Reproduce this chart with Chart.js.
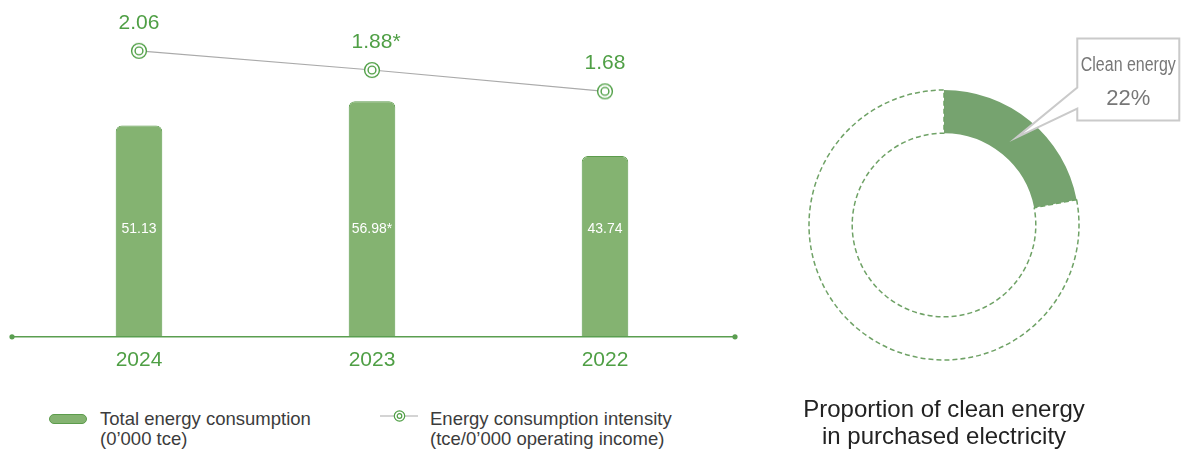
<!DOCTYPE html>
<html lang="en">
<head>
<meta charset="UTF-8">
<title>Energy consumption</title>
<script src="https://cdn.jsdelivr.net/npm/chart.js@4.4.1/dist/chart.umd.min.js"></script>
<style>
    body { margin: 0; background: #fff; width: 1183px; height: 451px; position: relative; overflow: hidden; font-family: "Liberation Sans", Arial, sans-serif; }
    #energy { position: absolute; left: 0; top: 0; }
    #clean { position: absolute; left: 770px; top: 0; }
    .lg-text { position: absolute; top: 409px; font-size: 18.5px; line-height: 20px; color: #3c3c3c; white-space: nowrap; }
    .lg-bar { position: absolute; left: 49px; top: 414px; width: 38px; height: 10px; border-radius: 5px; background: #84b371; border: 1px solid #5c9c4c; box-sizing: border-box; }
    .lg-line { position: absolute; left: 380px; top: 409px; }
</style>
</head>
<body>
<canvas id="energy" width="750" height="392"></canvas>
<canvas id="clean" width="413" height="451"></canvas>

<div class="lg-bar"></div>
<div class="lg-text" style="left:100px">Total energy consumption<br>(0’000 tce)</div>
<svg class="lg-line" width="40" height="14">
    <line x1="0" y1="7" x2="38" y2="7" stroke="#aaa" stroke-width="1.2"/>
    <circle cx="19.5" cy="7" r="5.2" fill="#fff" stroke="#4f9f45" stroke-width="1.2"/>
    <circle cx="19.5" cy="7" r="2.3" fill="#fff" stroke="#4f9f45" stroke-width="1.2"/>
</svg>
<div class="lg-text" style="left:430px">Energy consumption intensity<br>(tce/0’000 operating income)</div>

<script>
    // data
    var years = ["2024", "2023", "2022"];
    var totalEnergy = [51.13, 56.98, 43.74];
    var totalEnergyLabels = ["51.13", "56.98*", "43.74"];
    var intensity = [2.06, 1.88, 1.68];
    var intensityLabels = ["2.06", "1.88*", "1.68"];
    var cleanLabels = ["Clean energy", "Other"];
    var cleanShare = [22, 78];

    var green = "#4f9f45";
    var axisGreen = "#5a9e50";

    Chart.defaults.font.family = '"Liberation Sans", Arial, sans-serif';

    // double circle marker for the intensity line
    var marker = document.createElement("canvas");
    marker.width = 20;
    marker.height = 20;
    var mctx = marker.getContext("2d");
    mctx.strokeStyle = green;
    mctx.lineWidth = 1.4;
    mctx.fillStyle = "#fff";
    mctx.beginPath();
    mctx.arc(10, 10, 7.4, 0, Math.PI * 2);
    mctx.fill();
    mctx.stroke();
    mctx.beginPath();
    mctx.arc(10, 10, 3.9, 0, Math.PI * 2);
    mctx.stroke();

    // axis line with end dots, value labels
    var energyDecor = {
        id: "energyDecor",
        afterDatasetsDraw: function (chart) {
            var ctx = chart.ctx;
            var area = chart.chartArea;
            var yScale = chart.scales.y;
            var base = yScale.getPixelForValue(0);
            ctx.save();
            ctx.strokeStyle = axisGreen;
            ctx.fillStyle = axisGreen;
            ctx.lineWidth = 1.5;
            ctx.beginPath();
            ctx.moveTo(area.left - 10.5, base);
            ctx.lineTo(area.right + 13.5, base);
            ctx.stroke();
            [area.left - 10.5, area.right + 13.5].forEach(function (x) {
                ctx.beginPath();
                ctx.arc(x, base, 2.6, 0, Math.PI * 2);
                ctx.fill();
            });

            ctx.fillStyle = "#fff";
            ctx.font = '14px "Liberation Sans", Arial, sans-serif';
            ctx.textAlign = "center";
            ctx.textBaseline = "middle";
            chart.getDatasetMeta(1).data.forEach(function (bar, i) {
                ctx.fillText(totalEnergyLabels[i], bar.x, yScale.getPixelForValue(26));
            });

            ctx.fillStyle = green;
            ctx.font = '21px "Liberation Sans", Arial, sans-serif';
            ctx.textAlign = "left";
            chart.getDatasetMeta(0).data.forEach(function (pt, i) {
                var t = intensityLabels[i];
                var w = ctx.measureText(t.replace("*", "")).width;
                ctx.fillText(t, pt.x - w / 2, pt.y - 28);
            });
            ctx.restore();
        }
    };

    new Chart(document.getElementById("energy"), {
        data: {
            labels: years,
            datasets: [{
                type: "line",
                label: "Energy consumption intensity",
                data: intensity,
                yAxisID: "y1",
                borderColor: "#aaa",
                borderWidth: 1.2,
                pointStyle: marker,
                tension: 0,
                fill: false,
                order: 0
            }, {
                type: "bar",
                label: "Total energy consumption",
                data: totalEnergy,
                yAxisID: "y",
                backgroundColor: "#84b371",
                borderColor: "#5c9c4c",
                borderWidth: 1,
                borderSkipped: "bottom",
                borderRadius: { topLeft: 6, topRight: 6 },
                barPercentage: 0.2,
                categoryPercentage: 1,
                order: 1
            }]
        },
        options: {
            responsive: false,
            animation: false,
            events: [],
            layout: { padding: { left: 22.5, right: 28.5, top: 6, bottom: 8 } },
            plugins: { legend: { display: false }, tooltip: { enabled: false } },
            scales: {
                x: {
                    grid: { display: false, drawTicks: false },
                    border: { display: false },
                    ticks: { color: green, font: { size: 21 }, padding: 11 }
                },
                y: { display: false, min: 0, max: 80 },
                y1: { display: false, min: -0.62, max: 2.48 }
            }
        },
        plugins: [energyDecor]
    });

    // callout box pointing at the clean energy slice
    var callout = {
        id: "callout",
        afterDraw: function (chart) {
            var ctx = chart.ctx;
            var tip = chart.getDatasetMeta(0).data[0].tooltipPosition();
            var bx = tip.x + 61, by = tip.y - 99, bw = 102, bh = 82;
            ctx.save();
            ctx.beginPath();
            ctx.moveTo(bx, by);
            ctx.lineTo(bx + bw, by);
            ctx.lineTo(bx + bw, by + bh);
            ctx.lineTo(bx, by + bh);
            ctx.lineTo(bx, tip.y - 29);
            ctx.lineTo(tip.x, tip.y);
            ctx.lineTo(bx, tip.y - 50);
            ctx.closePath();
            ctx.fillStyle = "#fff";
            ctx.fill();
            ctx.strokeStyle = "#cacaca";
            ctx.lineWidth = 2;
            ctx.stroke();

            ctx.fillStyle = "#777";
            ctx.textAlign = "center";
            ctx.textBaseline = "alphabetic";
            // condensed look: squeeze the label to the box width
            ctx.font = '20px "Liberation Sans", Arial, sans-serif';
            var sx = Math.min(1, 95 / ctx.measureText(cleanLabels[0]).width);
            ctx.save();
            ctx.translate(bx + bw / 2, by + 32);
            ctx.scale(sx, 1);
            ctx.fillText(cleanLabels[0], 0, 0);
            ctx.restore();
            ctx.textBaseline = "middle";
            ctx.font = '22px "Liberation Sans", Arial, sans-serif';
            ctx.fillText(cleanShare[0] + "%", bx + bw / 2, by + 60);
            ctx.restore();
        }
    };

    new Chart(document.getElementById("clean"), {
        type: "doughnut",
        data: {
            labels: cleanLabels,
            datasets: [{
                data: cleanShare,
                backgroundColor: ["#76a36f", "rgba(0,0,0,0)"],
                borderColor: ["#76a36f", "#6fa266"],
                borderWidth: [0, 1.5],
                borderDash: [5, 3]
            }]
        },
        options: {
            responsive: false,
            animation: false,
            events: [],
            radius: 135,
            cutout: "68%",
            layout: { padding: { left: 0, right: 65, top: 53, bottom: 0 } },
            plugins: {
                legend: { display: false },
                tooltip: { enabled: false },
                title: {
                    display: true,
                    position: "bottom",
                    text: ["Proportion of clean energy", "in purchased electricity"],
                    color: "#222",
                    font: { size: 24, weight: "normal", lineHeight: 1.125 },
                    padding: 0
                }
            }
        },
        plugins: [callout]
    });
</script>
</body>
</html>
